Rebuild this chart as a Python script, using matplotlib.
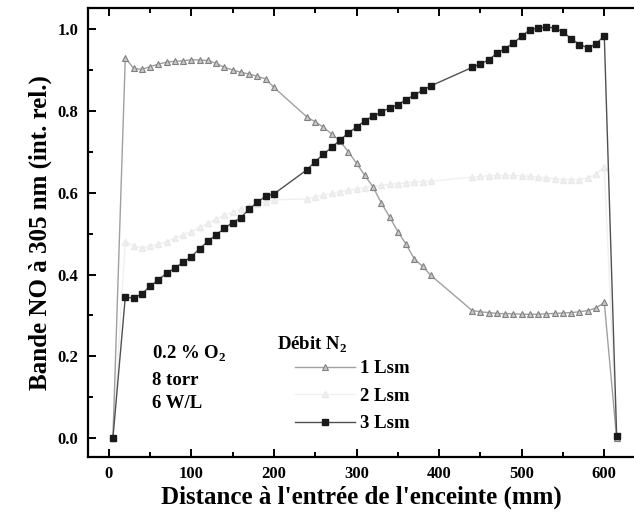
import matplotlib
matplotlib.use('Agg')
from matplotlib import pyplot as plt
from matplotlib.ticker import MultipleLocator, FormatStrFormatter

plt.rcParams['font.family'] = ['Liberation Serif', 'DejaVu Serif']
plt.rcParams['font.weight'] = 'bold'
plt.rcParams['mathtext.fontset'] = 'custom'
plt.rcParams['mathtext.rm'] = 'Liberation Serif:bold'

# distance (mm) for each group of measurements
x_start = [5]
x_a = [20, 30, 40, 50, 60, 70, 80, 90, 100, 110, 120, 130, 140, 150, 160, 170, 180, 190, 200]
x_b = [240, 250, 260, 270, 280, 290, 300, 310, 320, 330, 340, 350, 360, 370, 380, 390]
x_c = [440, 450, 460, 470, 480, 490, 500, 510, 520, 530, 540, 550, 560, 570, 580, 590, 600]
x_end = [615]
distances = x_start + x_a + x_b + x_c + x_end

# 1 Lsm
lsm1 = ([0.0]
        + [0.929, 0.904, 0.901, 0.908, 0.914, 0.919, 0.921, 0.922, 0.925, 0.924, 0.923, 0.916,
           0.906, 0.900, 0.894, 0.890, 0.884, 0.878, 0.857]
        + [0.785, 0.773, 0.760, 0.743, 0.726, 0.700, 0.672, 0.642, 0.614, 0.575, 0.541, 0.505,
           0.474, 0.438, 0.420, 0.398]
        + [0.312, 0.309, 0.307, 0.305, 0.304, 0.304, 0.303, 0.303, 0.303, 0.304, 0.305, 0.306,
           0.307, 0.309, 0.312, 0.318, 0.332]
        + [0.0])

# 2 Lsm
lsm2 = ([0.0]
        + [0.480, 0.470, 0.465, 0.470, 0.475, 0.480, 0.490, 0.497, 0.505, 0.515, 0.525, 0.535,
           0.545, 0.552, 0.560, 0.567, 0.573, 0.578, 0.582]
        + [0.585, 0.590, 0.594, 0.598, 0.602, 0.606, 0.609, 0.612, 0.615, 0.618, 0.620, 0.622,
           0.624, 0.626, 0.627, 0.628]
        + [0.638, 0.640, 0.641, 0.642, 0.642, 0.642, 0.641, 0.640, 0.638, 0.636, 0.634, 0.632,
           0.632, 0.632, 0.636, 0.645, 0.662]
        + [0.0])

# 3 Lsm
lsm3 = ([0.0]
        + [0.345, 0.342, 0.353, 0.371, 0.387, 0.403, 0.416, 0.430, 0.444, 0.463, 0.481, 0.497,
           0.513, 0.527, 0.539, 0.560, 0.576, 0.592, 0.597]
        + [0.656, 0.676, 0.694, 0.711, 0.728, 0.746, 0.760, 0.776, 0.787, 0.797, 0.807, 0.815,
           0.827, 0.839, 0.850, 0.861]
        + [0.906, 0.915, 0.924, 0.941, 0.952, 0.966, 0.982, 0.998, 1.002, 1.005, 1.002, 0.993,
           0.976, 0.962, 0.954, 0.963, 0.984]
        + [0.005])

fig = plt.figure(figsize=(6.34, 5.31), dpi=100)
ax = fig.add_axes([0.139, 0.14, 0.861, 0.844])

ax.plot(distances, lsm2, color='#f0f0f0', lw=1.0, marker='^', ms=4,
        mfc='#f0f0f0', mec='#eaeaea', label='2 Lsm', zorder=1)
ax.plot(distances, lsm1, color='#a0a0a0', lw=1.0, marker='^', ms=5,
        mfc='#c8c8c8', mec='#808080', mew=0.8, label='1 Lsm', zorder=2)
ax.plot(distances, lsm3, color='#505050', lw=1.0, marker='s', ms=5,
        mfc='#1a1a1a', mec='#1a1a1a', label='3 Lsm', zorder=3)

ax.set_xlim(-25, 636)
ax.set_ylim(-0.045, 1.05)
ax.xaxis.set_major_locator(MultipleLocator(100))
ax.xaxis.set_minor_locator(MultipleLocator(50))
ax.yaxis.set_major_locator(MultipleLocator(0.2))
ax.yaxis.set_minor_locator(MultipleLocator(0.1))
ax.yaxis.set_major_formatter(FormatStrFormatter('%.1f'))

ax.spines['right'].set_visible(False)
for side in ['left', 'top', 'bottom']:
    ax.spines[side].set_linewidth(1.6)
ax.tick_params(which='both', direction='in', top=True, right=False, width=1.4)
ax.tick_params(which='major', length=6, labelsize=12, pad=7)
ax.tick_params(which='minor', length=3.5)

ax.set_xlabel("Distance à l'entrée de l'enceinte (mm)", fontsize=18, fontweight='bold', labelpad=2)
ax.set_ylabel('Bande NO à 305 nm (int. rel.)', fontsize=18, fontweight='bold', labelpad=4)

ax.text(0.117, 0.218, '0.2 % O$_2$', transform=ax.transAxes, fontsize=13.5, fontweight='bold')
ax.text(0.117, 0.161, '8 torr', transform=ax.transAxes, fontsize=13.5, fontweight='bold')
ax.text(0.117, 0.108, '6 W/L', transform=ax.transAxes, fontsize=13.5, fontweight='bold')

ax.text(0.346, 0.238, 'Débit N$_2$', transform=ax.transAxes, fontsize=13.5, fontweight='bold')

handles, labels = ax.get_legend_handles_labels()
order = [1, 0, 2]
leg = ax.legend([handles[i] for i in order], [labels[i] for i in order],
                loc='lower left', bbox_to_anchor=(0.355, 0.025),
                frameon=False, fontsize=13.5, handlelength=3.2, labelspacing=0.55,
                handletextpad=0.25, borderpad=0.2)

fig.savefig('out.png', dpi=100)
